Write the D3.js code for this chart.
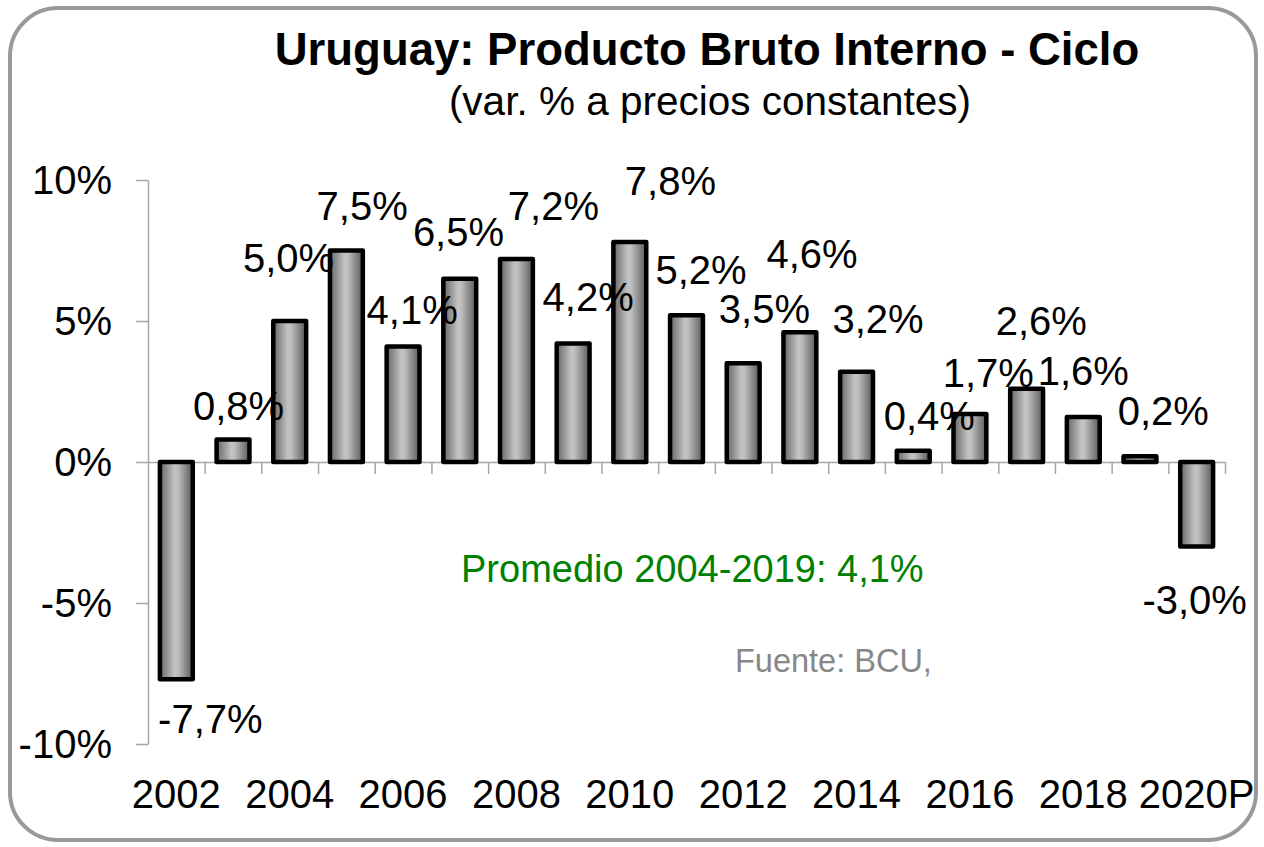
<!DOCTYPE html>
<html><head><meta charset="utf-8">
<script src="https://cdn.jsdelivr.net/npm/d3@7"></script>
<style>
body{margin:0;background:#fff}
text{font-family:"Liberation Sans",Arial,sans-serif}
</style>
</head><body>
<svg id="c" width="1264" height="847"></svg>
<script>
// ---- data ----
const categories = ["2002","2003","2004","2005","2006","2007","2008","2009","2010","2011","2012","2013","2014","2015","2016","2017","2018","2019","2020P"];
const values = [-7.7,0.8,5.0,7.5,4.1,6.5,7.2,4.2,7.8,5.2,3.5,4.6,3.2,0.4,1.7,2.6,1.6,0.2,-3.0];
const yTicks = [-10,-5,0,5,10];
const xTickLabels = ["2002","2004","2006","2008","2010","2012","2014","2016","2018","2020P"];
const titleText = "Uruguay: Producto Bruto Interno - Ciclo";
const subtitleText = "(var. % a precios constantes)";
const noteText = "Promedio 2004-2019: 4,1%";
const sourceText = "Fuente: BCU,";
// label nudges (layout only): [dx, dy] in px relative to bar end
const labelNudge = [[34,54],[5.5,-19.4],[-1.2,-49.3],[15.8,-30.5],[9.1,-22.4],[-1.3,-32.7],[37,-39],[15,-32.9],[40.6,-47],[14.6,-31.4],[21.2,-40.3],[12.2,-64.3],[21.5,-38.8],[16.1,-20.7],[18.4,-27.4],[14.7,-53.7],[0,-31.9],[23.3,-31.4],[-2,67.4]];

// ---- layout ----
const svg = d3.select("#c");
const pLeft = 148, pRight = 1225, pTop = 180, pBottom = 744;

svg.append("rect").attr("x",10).attr("y",8).attr("width",1246).attr("height",832)
  .attr("rx",48).attr("ry",48).attr("fill","#fff").attr("stroke","#999").attr("stroke-width",4);

const defs = svg.append("defs");
const grad = defs.append("linearGradient").attr("id","bg").attr("x1","0").attr("x2","1").attr("y1","0").attr("y2","0");
grad.append("stop").attr("offset","0").attr("stop-color","#666");
grad.append("stop").attr("offset","0.45").attr("stop-color","#c4c4c4");
grad.append("stop").attr("offset","0.55").attr("stop-color","#bdbdbd");
grad.append("stop").attr("offset","1").attr("stop-color","#595959");

const x = d3.scaleBand().domain(categories).range([pLeft,pRight]).paddingInner(0.42).paddingOuter(0.21);
const y = d3.scaleLinear().domain([-10,10]).range([pBottom,pTop]);
const xi = d3.scaleLinear().domain([0,categories.length]).range([pLeft,pRight]);

// y axis
const ya = svg.append("g").attr("transform",`translate(${pLeft},0)`)
  .call(d3.axisLeft(y).tickValues(yTicks).tickFormat(d=>d+"%").tickSize(12).tickSizeOuter(0).tickPadding(24));
ya.selectAll("path,line").attr("stroke","#a6a6a6").attr("stroke-width",1.5);
ya.selectAll("text").attr("font-size",40).attr("fill","#000").attr("dy","0.33em");

// x axis (zero line + boundary ticks)
const xa = svg.append("g").attr("transform",`translate(0,${y(0)})`)
  .call(d3.axisBottom(xi).tickValues(d3.range(1,categories.length+1)).tickFormat("").tickSize(12).tickSizeOuter(0));
xa.selectAll("path,line").attr("stroke","#a6a6a6").attr("stroke-width",1.5);

// bars
svg.append("g").selectAll("rect").data(values).join("rect")
  .attr("x",(d,i)=>x(categories[i]))
  .attr("width",x.bandwidth())
  .attr("y",d=>y(Math.max(0,d)))
  .attr("height",d=>Math.abs(y(d)-y(0)))
  .attr("fill","url(#bg)").attr("stroke","#000").attr("stroke-width",4.5).attr("stroke-linejoin","round");

// x labels
svg.append("g").selectAll("text").data(xTickLabels).join("text")
  .attr("x",d=>x(d)+x.bandwidth()/2).attr("y",808)
  .attr("text-anchor","middle").attr("font-size",40).attr("fill","#000").text(d=>d);

// data labels
const fmt = v => v.toFixed(1).replace(".",",")+"%";
svg.append("g").selectAll("text").data(values).join("text")
  .attr("x",(d,i)=>x(categories[i])+x.bandwidth()/2+labelNudge[i][0])
  .attr("y",(d,i)=>y(d)+labelNudge[i][1])
  .attr("text-anchor","middle").attr("font-size",40).attr("fill","#000").text(fmt);

// titles
svg.append("text").attr("x",707).attr("y",65).attr("text-anchor","middle")
  .attr("font-size",45.5).attr("font-weight","bold").attr("fill","#000").text(titleText);
svg.append("text").attr("x",710).attr("y",115).attr("text-anchor","middle")
  .attr("font-size",40.5).attr("fill","#000").text(subtitleText);
svg.append("text").attr("x",461).attr("y",582).attr("font-size",38).attr("fill","#008000").text(noteText);
svg.append("text").attr("x",735).attr("y",672).attr("font-size",32.5).attr("fill","#878787").text(sourceText);
</script>
</body></html>
